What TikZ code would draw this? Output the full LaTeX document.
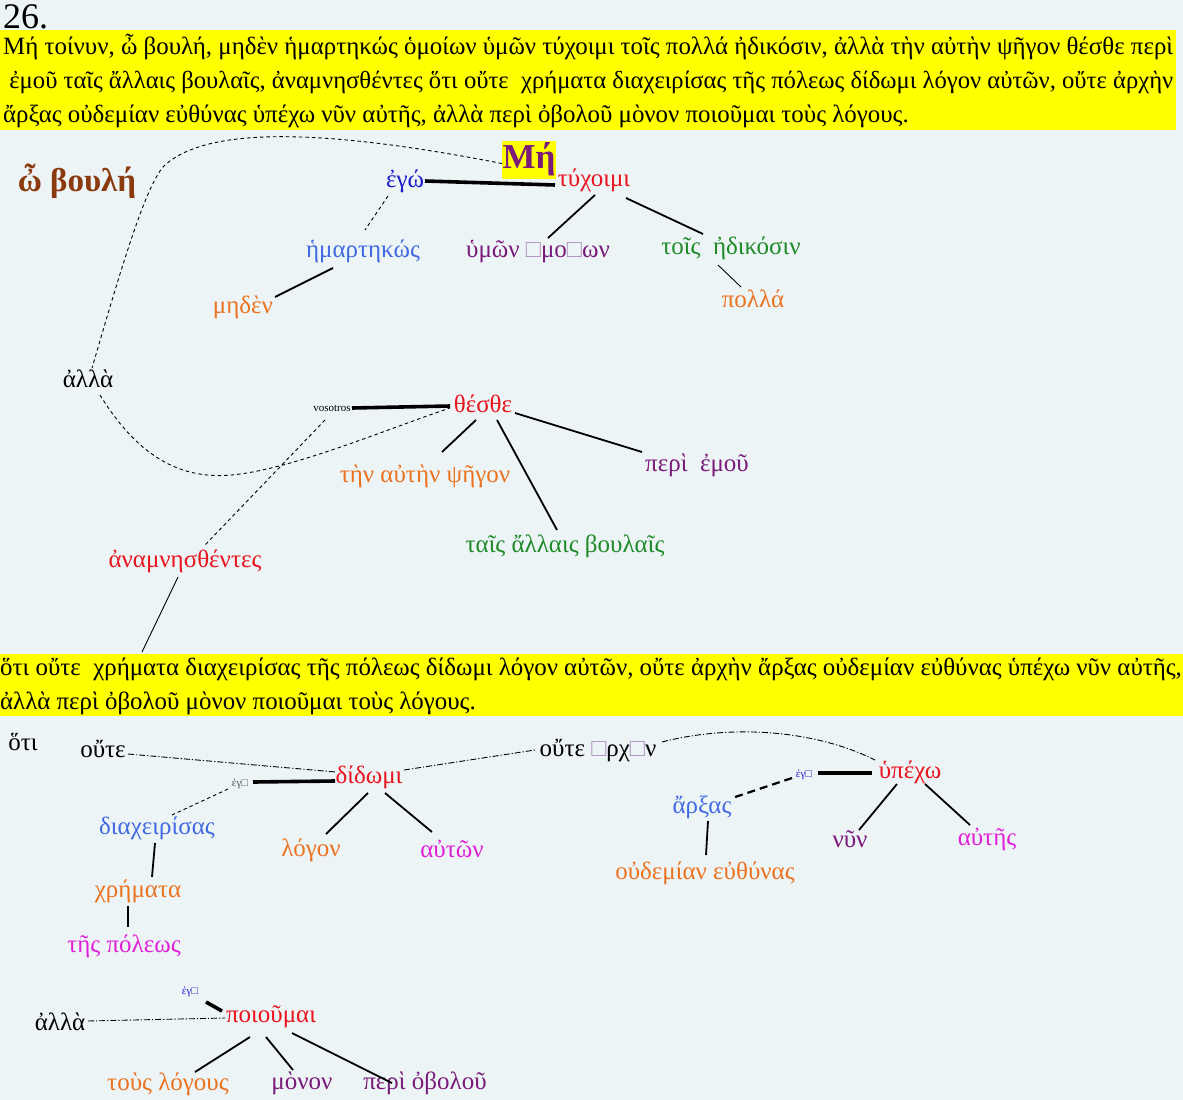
\documentclass[tikz,border=0pt]{standalone}
\usepackage{fontspec}
\usepackage{graphicx}
\setmainfont{Liberation Serif}
\usetikzlibrary{calc}
\definecolor{bg}{HTML}{EDF4F6}
\definecolor{hl}{HTML}{FFFF00}
\definecolor{cred}{HTML}{E8141E}
\definecolor{cblue}{HTML}{1C1CC8}
\definecolor{croyal}{HTML}{4169E1}
\definecolor{corange}{HTML}{EB7320}
\definecolor{cpurple}{HTML}{7A1A7A}
\definecolor{cgreen}{HTML}{1E8A28}
\definecolor{cmag}{HTML}{E020D8}
\definecolor{cbrown}{HTML}{8B3A0F}
\definecolor{cgray}{HTML}{555555}
\definecolor{boxc}{HTML}{B090C0}
\newcommand{\bx}{{\color{boxc}□}}
\begin{document}
\begin{tikzpicture}[x=1pt,y=-1pt,
  every node/.style={inner sep=1pt},
  wd/.style={anchor=base,font=\fontsize{25}{29}\selectfont},
  tiny/.style={anchor=base,font=\fontsize{11}{12}\selectfont},
  hdr/.style={anchor=base west,inner sep=0pt,font=\fontsize{24.9}{29}\selectfont},
  dep/.style={line width=1.8pt},
  subj/.style={line width=3.6pt},
  thinl/.style={line width=0.9pt},
  dsh/.style={line width=0.9pt,dash pattern=on 3.5pt off 3pt},
  dshb/.style={line width=2.2pt,dash pattern=on 8pt off 5pt},
  dd/.style={line width=0.9pt,dash pattern=on 6pt off 2pt on 1.2pt off 2pt}]
\fill[bg] (0,0) rectangle (1183,1100);
\useasboundingbox (0,0) rectangle (1183,1100);
% title and text blocks
\node[anchor=base west,inner sep=0pt,font=\fontsize{36}{40}\selectfont] (title) at (3,28) {26.};
\fill[hl] (0,30) rectangle (1176,130);
\node[hdr] (h1) at (3,54) {Μή τοίνυν, ὦ βουλή, μηδὲν ἡμαρτηκώς ὁμοίων ὑμῶν τύχοιμι τοῖς πολλά ἠδικόσιν, ἀλλὰ τὴν αὐτὴν ψῆγον θέσθε περὶ};
\node[hdr] (h2) at (3,88) {\resizebox{1170pt}{!}{\ ἐμοῦ ταῖς ἄλλαις βουλαῖς, ἀναμνησθέντες ὅτι οὔτε\ \ χρήματα διαχειρίσας τῆς πόλεως δίδωμι λόγον αὐτῶν, οὔτε ἀρχὴν}};
\node[hdr] (h3) at (3,122) {ἄρξας οὐδεμίαν εὐθύνας ὑπέχω νῦν αὐτῆς, ἀλλὰ περὶ ὀβολοῦ μὸνον ποιοῦμαι τοὺς λόγους.};
\fill[hl] (0,654) rectangle (1183,716);
\node[hdr] (t1) at (0,675) {ὅτι οὔτε\ \ χρήματα διαχειρίσας τῆς πόλεως δίδωμι λόγον αὐτῶν, οὔτε ἀρχὴν ἄρξας οὐδεμίαν εὐθύνας ὑπέχω νῦν αὐτῆς,};
\node[hdr] (t2) at (0,709) {ἀλλὰ περὶ ὀβολοῦ μὸνον ποιοῦμαι τοὺς λόγους.};
% first tree
\node[fill=hl,minimum width=54pt,minimum height=38pt,inner sep=0pt,text=cpurple,font=\bfseries\fontsize{35}{38}\selectfont] (Me) at (529,159.5) {Μή};
\node[anchor=base,text=cbrown,font=\bfseries\fontsize{33}{36}\selectfont] (boule) at (77,191) {ὦ βουλή};
\node[wd,text=cblue] (ego) at (405,187) {ἐγώ};
\node[wd,text=cred] (tux) at (594,186) {τύχοιμι};
\node[wd,text=croyal] (hamart) at (363,257) {ἡμαρτηκώς};
\node[wd,text=corange] (meden) at (243,313) {μηδὲν};
\node[wd,text=cpurple] (umon) at (538,257) {ὑμῶν \bx μο\bx ων};
\node[wd,text=cgreen] (adik) at (731,254) {τοῖς\ \ ἠδικόσιν};
\node[wd,text=corange] (polla) at (753,307) {πολλά};
\node[wd] (alla1) at (88,387) {ἀλλὰ};
\node[tiny] (vos) at (332,411) {vosotros};
\node[wd,text=cred] (thes) at (483,412) {θέσθε};
\node[wd,text=corange] (ten) at (425,482) {τὴν αὐτὴν ψῆγον};
\node[wd,text=cgreen] (tais) at (565,552) {ταῖς ἄλλαις βουλαῖς};
\node[wd,text=cpurple] (peri1) at (697,471) {περὶ\ \ ἐμοῦ};
\node[wd,text=cred] (anam) at (185,567) {ἀναμνησθέντες};
\coordinate (hotiend) at (142,652);
\coordinate (bend) at (165,165);
% second tree
\node[wd] (hoti) at (23,750) {ὅτι};
\node[wd] (oute1) at (103,757) {οὔτε};
\node[wd,text=cred] (did) at (369,783) {δίδωμι};
\node[tiny,text=cgray] (eg1) at (240,786) {ἐγ□};
\node[wd,text=croyal] (diax) at (157,834) {διαχειρίσας};
\node[wd,text=corange] (chrem) at (138,897) {χρήματα};
\node[wd,text=cmag] (poleos) at (124,952) {τῆς πόλεως};
\node[wd,text=corange] (logon) at (311,856) {λόγον};
\node[wd,text=cmag] (auton) at (452,857) {αὐτῶν};
\node[wd] (oute2) at (598,756) {οὔτε \bx ρχ\bx ν};
\node[wd,text=cred] (upech) at (910,778) {ὑπέχω};
\node[tiny,text=cblue] (eg2) at (804,777) {ἐγ□};
\node[wd,text=croyal] (arx) at (702,813) {ἄρξας};
\node[wd,text=corange] (oud) at (705,879) {οὐδεμίαν εὐθύνας};
\node[wd,text=cpurple] (nun) at (850,847) {νῦν};
\node[wd,text=cmag] (autes) at (987,845) {αὐτῆς};
% third tree
\node[wd] (alla2) at (60,1030) {ἀλλὰ};
\node[wd,text=cred] (poiou) at (271,1022) {ποιοῦμαι};
\node[tiny,text=cblue] (eg3) at (190,994) {ἐγ□};
\node[wd,text=corange] (tous) at (168,1090) {τοὺς λόγους};
\node[wd,text=cpurple] (monon) at (302,1089) {μὸνον};
\node[wd,text=cpurple] (peri2) at (425,1089) {περὶ ὀβολοῦ};
% connectors tree 1
\draw[dsh] ($(Me.center)+(-27,4)$) .. controls (330,130) and (210,125) .. (bend) .. controls (145,183) and (115,290) .. ($(alla1.base)+(4,-19)$);
\draw[subj] ($(ego.base)+(20,-6)$) -- ($(tux.base)+(-39,-1)$);
\draw[dsh] ($(ego.base)+(-17,9)$) -- ($(hamart.base)+(2,-27)$);
\draw[dep] ($(hamart.base)+(-30,11)$) -- ($(meden.base)+(32,-16)$);
\draw[dep] ($(tux.base)+(1,9)$) -- ($(umon.base)+(10,-19)$);
\draw[dep] ($(tux.base)+(32,12)$) -- ($(adik.base)+(-28,-20)$);
\draw[thinl] ($(adik.base)+(-13,11)$) -- ($(polla.base)+(-12,-20)$);
\draw[dsh] ($(alla1.base)+(12,8)$) .. controls (140,460) and (185,482) .. (240,474) .. controls (300,466) and (390,428) .. ($(thes.base)+(-33,-4)$);
\draw[subj] ($(vos.base)+(20,-3)$) -- ($(thes.base)+(-33,-6)$);
\draw[dsh] ($(vos.base)+(-7,9)$) -- ($(anam.base)+(20,-22)$);
\draw[thinl] ($(anam.base)+(-7,10)$) -- (hotiend);
\draw[dep] ($(thes.base)+(-7,8)$) -- ($(ten.base)+(17,-30)$);
\draw[dep] ($(thes.base)+(14,8)$) -- ($(tais.base)+(-8,-22)$);
\draw[dep] ($(thes.base)+(32,1)$) -- ($(peri1.base)+(-55,-19)$);
% connectors tree 2
\draw[dd] ($(oute1.base)+(25,-3)$) -- ($(did.base)+(-33,-11)$);
\draw[subj] ($(eg1.base)+(13,-4)$) -- ($(did.base)+(-34,-2)$);
\draw[dsh] ($(eg1.base)+(-12,3)$) -- ($(diax.base)+(15,-19)$);
\draw[dep] ($(diax.base)+(-2,9)$) -- ($(chrem.base)+(14,-20)$);
\draw[dep] ($(chrem.base)+(-10,9)$) -- ($(poleos.base)+(4,-25)$);
\draw[dep] ($(did.base)+(-1,10)$) -- ($(logon.base)+(15,-22)$);
\draw[dep] ($(did.base)+(16,10)$) -- ($(auton.base)+(-20,-25)$);
\draw[dd] ($(did.base)+(35,-13)$) -- ($(oute2.base)+(-63,-6)$);
\draw[dd] ($(oute2.base)+(64,-14)$) .. controls +(70,-18) and +(-60,-30) .. ($(upech.base)+(-35,-18)$);
\draw[subj] ($(eg2.base)+(14,-4)$) -- ($(upech.base)+(-38,-5)$);
\draw[dshb] ($(eg2.base)+(-12,1)$) -- ($(arx.base)+(33,-16)$);
\draw[dep] ($(arx.base)+(6,8)$) -- ($(oud.base)+(1,-24)$);
\draw[dep] ($(upech.base)+(-13,6)$) -- ($(nun.base)+(9,-17)$);
\draw[dep] ($(upech.base)+(15,6)$) -- ($(autes.base)+(-17,-20)$);
% connectors tree 3
\draw[dd] ($(alla2.base)+(28,-9)$) -- ($(poiou.base)+(-46,-4)$);
\draw[subj] ($(eg3.base)+(16,8)$) -- ($(poiou.base)+(-49,-11)$);
\draw[dep] ($(poiou.base)+(-21,15)$) -- ($(tous.base)+(27,-18)$);
\draw[dep] ($(poiou.base)+(-5,15)$) -- ($(monon.base)+(-9,-19)$);
\draw[dep] ($(poiou.base)+(21,11)$) -- ($(peri2.base)+(-33,-6)$);
\end{tikzpicture}
\end{document}
